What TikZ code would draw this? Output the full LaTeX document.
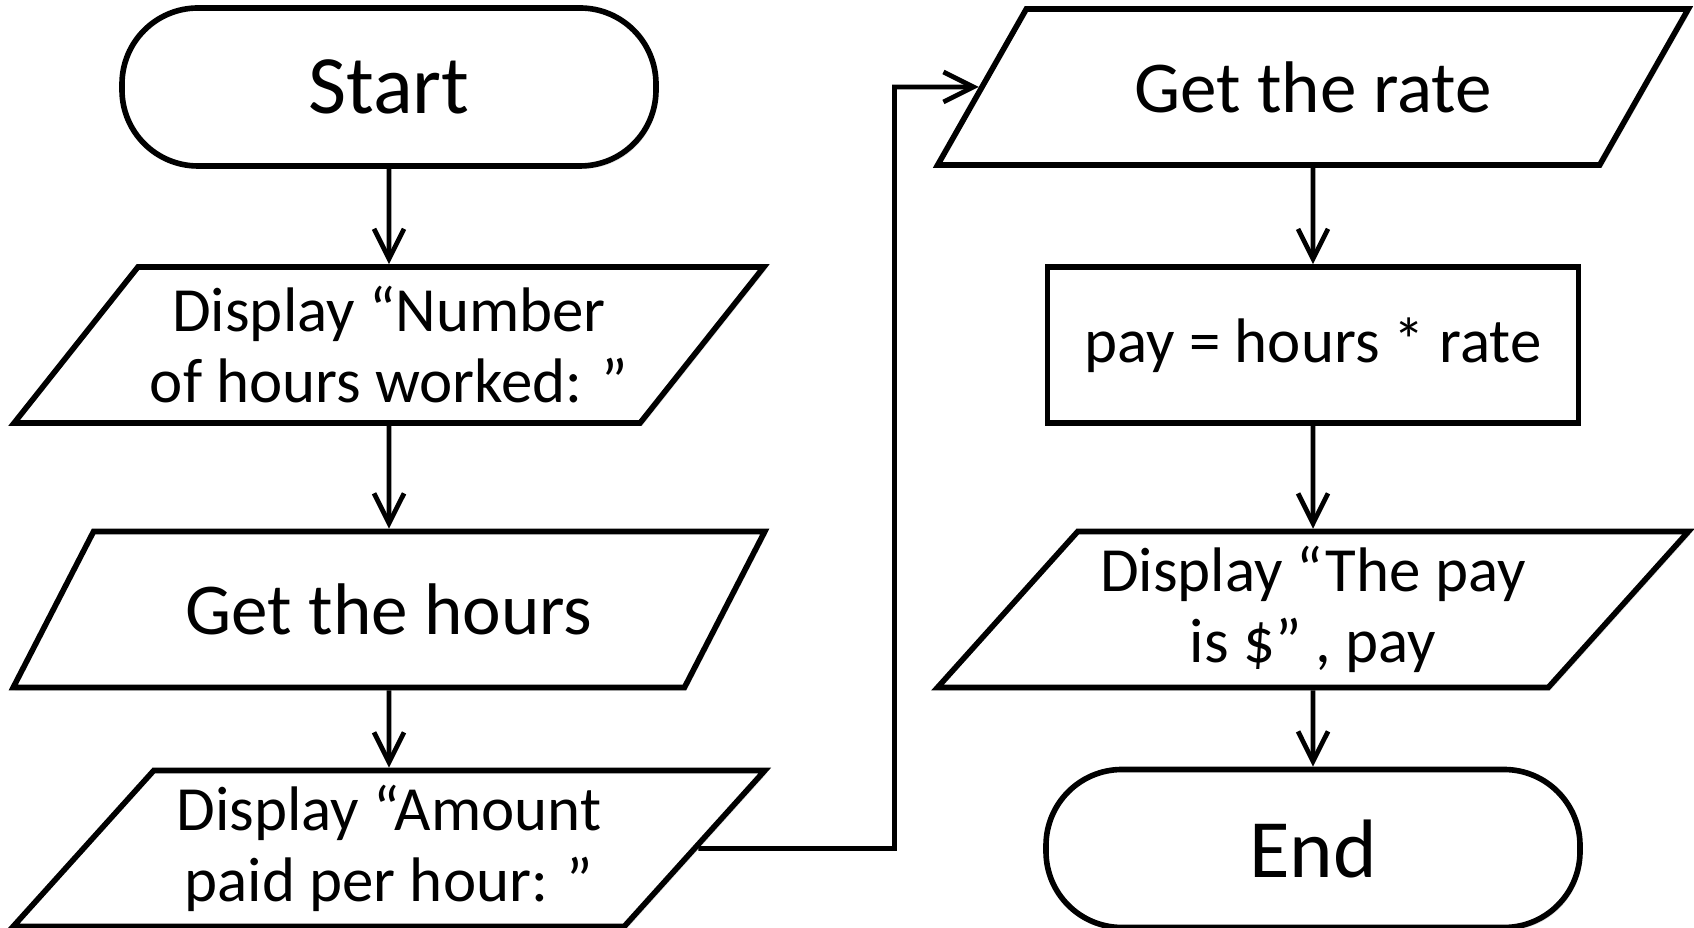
\documentclass[tikz,border=0pt]{standalone}
\usepackage{fontspec}
\setmainfont{Carlito}
\usetikzlibrary{shapes.geometric,arrows.meta,shadows}

\begin{document}
\begin{tikzpicture}[
		terminal/.style = {
			rectangle,
			rounded corners = 0.76cm,
			draw,
			fill = white,
			line width = 1.6pt,
			minimum width = 5.34cm,
			minimum height = 1.58cm,
			font = \fontsize{23.6}{28}\selectfont,
			drop shadow = {shadow xshift=0.02cm, shadow yshift=-0.03cm, opacity=0.25}
		},
		io/.style = {
			trapezium,
			trapezium left angle = 46,
			trapezium right angle = 134,
			trapezium stretches = true,
			draw,
			fill = white,
			line width = 1.6pt,
			inner sep = 1pt,
			minimum width = 7.52cm,
			minimum height = 1.56cm,
			align = center,
			drop shadow = {shadow xshift=0.02cm, shadow yshift=-0.03cm, opacity=0.25}
		},
		process/.style = {
			rectangle,
			draw,
			fill = white,
			line width = 1.6pt,
			minimum width = 5.31cm,
			minimum height = 1.56cm,
			drop shadow = {shadow xshift=0.02cm, shadow yshift=-0.03cm, opacity=0.25}
		},
		big/.style = {font = \fontsize{20.8}{25}\selectfont},
		small/.style = {font = \fontsize{17.9}{20.2}\selectfont},
		flow/.style = {
			line width = 1.35pt,
			-{Straight Barb[length=3mm, width=3mm, line width=1.35pt]}
		}
	]
	\useasboundingbox (0,0) rectangle (16.94,-9.28);
	% left column
	\node[terminal]    (start)  at (3.89,-0.87)  {Start};
	\node[io, small]   (number) at (3.89,-3.45)  {Display “Number\\of hours worked: ”};
	\node[io, big]     (hours)  at (3.89,-6.095) {Get the hours};
	\node[io, small]   (amount) at (3.89,-8.485) {Display “Amount\\paid per hour: ”};
	% right column
	\node[io, big]     (rate)   at (13.13,-0.87)  {Get the rate};
	\node[process, small] (pay) at (13.13,-3.45)  {pay = hours * rate};
	\node[io, small]   (result) at (13.13,-6.095) {Display “The pay\\is \$” , pay};
	\node[terminal]    (end)    at (13.13,-8.485) {End};
	\coordinate (bend) at (8.945,-0.87);

	\draw[flow] (start)  -- (number);
	\draw[flow] (number) -- (hours);
	\draw[flow] (hours)  -- (amount);
	\draw[flow] (amount.east) -| (bend) -- (rate.west);
	\draw[flow] (rate)   -- (pay);
	\draw[flow] (pay)    -- (result);
	\draw[flow] (result) -- (end);
\end{tikzpicture}
\end{document}
